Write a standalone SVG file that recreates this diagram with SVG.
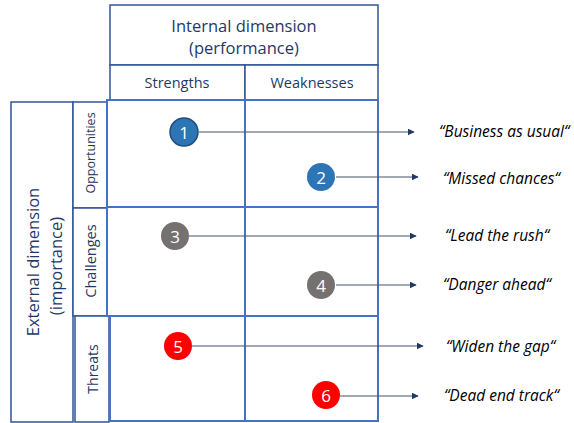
<svg xmlns="http://www.w3.org/2000/svg" width="574" height="423" viewBox="0 0 574 423">
  <style>
    .frame { fill: #ffffff; stroke: #2F5597; stroke-width: 1.5; }
    .inner { fill: none; stroke: #4472C4; stroke-width: 2; }
    .head { font-family: "Open Sans", "Liberation Sans", sans-serif; fill: #1F3864; text-anchor: middle; dominant-baseline: central; }
    .num { font-family: "Open Sans", "Liberation Sans", sans-serif; font-size: 17px; fill: #ffffff; text-anchor: middle; dominant-baseline: central; }
    .quote { font-family: "Open Sans", "Liberation Sans", sans-serif; font-style: italic; font-size: 15.5px; fill: #000000; dominant-baseline: central; }
    .conn { stroke: #44546A; stroke-width: 1.2; fill: none; marker-end: url(#arrow); }
  </style>
  <defs>
    <marker id="arrow" viewBox="0 0 10 10" refX="9" refY="5" markerWidth="7" markerHeight="7" markerUnits="userSpaceOnUse" orient="auto">
      <path d="M0,0 L10,5 L0,10 z" fill="#1F3864"/>
    </marker>
  </defs>

  <!-- column header -->
  <g id="internal-header">
    <rect class="frame" x="110" y="5" width="268" height="60"/>
    <text class="head" x="244" y="25" font-size="16.5">Internal dimension</text>
    <text class="head" x="244" y="47" font-size="16.5">(performance)</text>
  </g>
  <g id="strengths-header">
    <rect class="frame" x="110" y="65" width="135" height="35"/>
    <text class="head" x="177" y="82" font-size="14.5">Strengths</text>
  </g>
  <g id="weaknesses-header">
    <rect class="frame" x="245" y="65" width="133" height="35"/>
    <text class="head" x="312" y="82" font-size="14.5">Weaknesses</text>
  </g>

  <!-- row header -->
  <g id="external-header">
    <rect class="frame" x="11" y="102" width="62" height="320"/>
    <text class="head" font-size="16.5" transform="translate(32,262) rotate(-90)">External dimension</text>
    <text class="head" font-size="16.5" transform="translate(55,266) rotate(-90)">(importance)</text>
  </g>
  <g id="opportunities-header">
    <rect class="frame" x="73" y="102" width="34" height="106"/>
    <text class="head" font-size="12.5" transform="translate(90,153) rotate(-90)">Opportunities</text>
  </g>
  <g id="challenges-header">
    <rect class="frame" x="73" y="208" width="34" height="108"/>
    <text class="head" font-size="14.5" transform="translate(90,261) rotate(-90)">Challenges</text>
  </g>
  <g id="threats-header">
    <rect class="frame" x="75" y="316" width="34" height="106"/>
    <text class="head" font-size="14" transform="translate(92,369) rotate(-90)">Threats</text>
  </g>

  <!-- matrix grid -->
  <g id="grid">
    <rect class="inner" x="107" y="100" width="271" height="216" stroke="#2F5597"/>
    <line class="inner" x1="107" y1="207" x2="378" y2="207" stroke="#8FAADC"/>
    <line class="inner" x1="245" y1="100" x2="245" y2="421"/>
    <rect class="inner" x="110" y="316" width="268" height="105" stroke="#2F5597" stroke-width="2.5"/>
  </g>

  <!-- connectors -->
  <g id="connectors">
    <line class="conn" x1="199" y1="132" x2="414" y2="132" stroke="#8497B0"/>
    <line class="conn" x1="336" y1="177" x2="418" y2="177"/>
    <line class="conn" x1="189" y1="236" x2="416" y2="236" stroke="#5B6B8A"/>
    <line class="conn" x1="336" y1="285" x2="416" y2="285" stroke="#8497B0"/>
    <line class="conn" x1="192" y1="346" x2="423" y2="346" stroke="#2F3F66"/>
    <line class="conn" x1="340" y1="396" x2="418" y2="396" stroke="#8497B0"/>
  </g>

  <!-- scenario markers -->
  <g id="node-1">
    <circle cx="184" cy="132" r="14" fill="#2E75B6" stroke="#1F4E79" stroke-width="1.5"/>
    <text class="num" x="184" y="132">1</text>
  </g>
  <g id="node-2">
    <circle cx="321" cy="177" r="14" fill="#2E75B6"/>
    <text class="num" x="321" y="177">2</text>
  </g>
  <g id="node-3">
    <circle cx="175" cy="236" r="14" fill="#767171"/>
    <text class="num" x="175" y="236">3</text>
  </g>
  <g id="node-4">
    <circle cx="321" cy="285" r="14" fill="#767171"/>
    <text class="num" x="321" y="285">4</text>
  </g>
  <g id="node-5">
    <circle cx="178" cy="346" r="14" fill="#FF0000"/>
    <text class="num" x="178" y="346">5</text>
  </g>
  <g id="node-6">
    <circle cx="326" cy="395" r="14" fill="#FF0000"/>
    <text class="num" x="326" y="395">6</text>
  </g>

  <!-- scenario labels -->
  <g id="labels">
    <text class="quote" x="439" y="131">“Business as usual“</text>
    <text class="quote" x="443" y="178">“Missed chances“</text>
    <text class="quote" x="445" y="235">“Lead the rush“</text>
    <text class="quote" x="443" y="284">“Danger ahead“</text>
    <text class="quote" x="446" y="346">“Widen the gap“</text>
    <text class="quote" x="444" y="395">“Dead end track“</text>
  </g>
</svg>
